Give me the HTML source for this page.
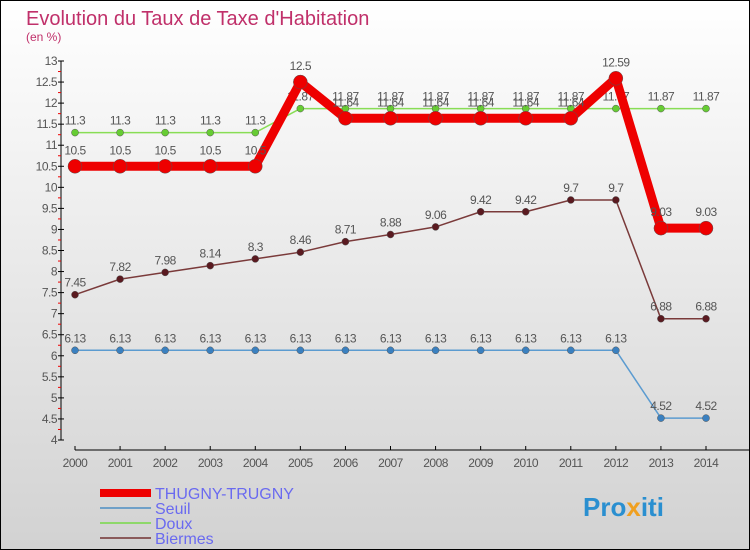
<!DOCTYPE html>
<html><head><meta charset="utf-8"><style>
body{margin:0}
svg{display:block;font-family:"Liberation Sans",sans-serif}
</style></head><body>
<svg width="750" height="550" xmlns="http://www.w3.org/2000/svg">
<defs><linearGradient id="bg" x1="0" y1="0" x2="0" y2="1"><stop offset="0" stop-color="#ffffff"/><stop offset="1" stop-color="#d2d2d2"/></linearGradient></defs>
<rect x="0.5" y="0.5" width="749" height="549" fill="url(#bg)" stroke="#000"/>
<text x="26" y="25" font-size="20" fill="#c0306a">Evolution du Taux de Taxe d'Habitation</text>
<text x="26" y="41" font-size="12" fill="#c0306a">(en %)</text>
<g id="axes"></g>
<g id="series"></g>
<g>
<rect x="100" y="489" width="51" height="8" fill="#e00"/>
<text x="155" y="499" font-size="16" fill="#6a6af0">THUGNY-TRUGNY</text>
<rect x="100" y="507" width="51" height="2" fill="#6fa0c8"/>
<text x="155" y="514" font-size="16" fill="#6a6af0">Seuil</text>
<rect x="100" y="522" width="51" height="2" fill="#8ed86a"/>
<text x="155" y="529" font-size="16" fill="#6a6af0">Doux</text>
<rect x="100" y="537" width="51" height="2" fill="#8a5a5a"/>
<text x="155" y="544" font-size="16" fill="#6a6af0">Biermes</text>
</g>
<text x="583" y="516" font-size="26" font-weight="bold" fill="#2a8fd0">Pro<tspan fill="#f0a020">x</tspan>iti</text>
</svg>
<script>
const years=[2000,2001,2002,2003,2004,2005,2006,2007,2008,2009,2010,2011,2012,2013,2014];
const thugny=[10.5,10.5,10.5,10.5,10.5,12.5,11.64,11.64,11.64,11.64,11.64,11.64,12.59,9.03,9.03];
const seuil=[6.13,6.13,6.13,6.13,6.13,6.13,6.13,6.13,6.13,6.13,6.13,6.13,6.13,4.52,4.52];
const doux=[11.3,11.3,11.3,11.3,11.3,11.87,11.87,11.87,11.87,11.87,11.87,11.87,11.87,11.87,11.87];
const biermes=[7.45,7.82,7.98,8.14,8.3,8.46,8.71,8.88,9.06,9.42,9.42,9.7,9.7,6.88,6.88];
const yTicks=[4,4.5,5,5.5,6,6.5,7,7.5,8,8.5,9,9.5,10,10.5,11,11.5,12,12.5,13];
const NS="http://www.w3.org/2000/svg";
const xs=i=>75+i*(706-75)/(years.length-1);
const ys=v=>440-(v-4)*(440-61)/9;
function mk(t,a,p){const e=document.createElementNS(NS,t);for(const k in a)e.setAttribute(k,a[k]);p.appendChild(e);return e;}
const ax=document.getElementById('axes');
const yl=mk('line',{x1:61,y1:61,x2:61,y2:440,stroke:'#000'},ax);


yTicks.forEach(v=>{
 const y=ys(v);
 mk('line',{x1:58,y1:y,x2:64,y2:y,stroke:'#000'},ax);
 mk('line',{x1:58,y1:ys(v+0.25),x2:61,y2:ys(v+0.25),stroke:v<13?'#e00':'none'},ax);
 const t=mk('text',{x:57,y:y+4,'font-size':12,fill:'#555','text-anchor':'end','letter-spacing':'-0.5'},ax);
 t.textContent=v;
 
 
});
const xl=mk('line',{x1:75,y1:450,x2:750,y2:450,stroke:'#000'},ax);


years.forEach((yr,i)=>{
 mk('line',{x1:xs(i),y1:446,x2:xs(i),y2:450,stroke:'#000'},ax);
 const t=mk('text',{x:xs(i),y:467,'font-size':12,fill:'#555','text-anchor':'middle','letter-spacing':'-0.5'},ax);
 t.textContent=yr;
 
 
});
const sg=document.getElementById('series');
function series(d,name,col,w,r,dot,lab){
 const g=mk('g',{},sg);
 
 
 const pl=mk('polyline',{points:d.map((v,i)=>xs(i)+','+ys(v)).join(' '),fill:'none',stroke:col,'stroke-width':w,'stroke-linejoin':'round'},g);
 
 
 d.forEach((v,i)=>{
  const c=mk('circle',{cx:xs(i),cy:ys(v),r:r,fill:dot,stroke:'#555','stroke-width':0.5},g);
  
  
  const t=mk('text',{x:xs(i),y:ys(v)-lab,'font-size':12,fill:'#555','text-anchor':'middle','letter-spacing':'-0.5'},g);
  t.textContent=v;
  
  
 });
}
series(seuil,'seuil','#5b9bd0',1.5,3.5,'#3a80c0',8);
series(doux,'doux','#88dd55',1.5,3.5,'#66cc33',8);
series(biermes,'biermes','#7a3a3a',1.5,3.5,'#5a1a20',8);
series(thugny,'thugny','#ee0000',9,7,'#e00',12);
</script>
</body></html>
